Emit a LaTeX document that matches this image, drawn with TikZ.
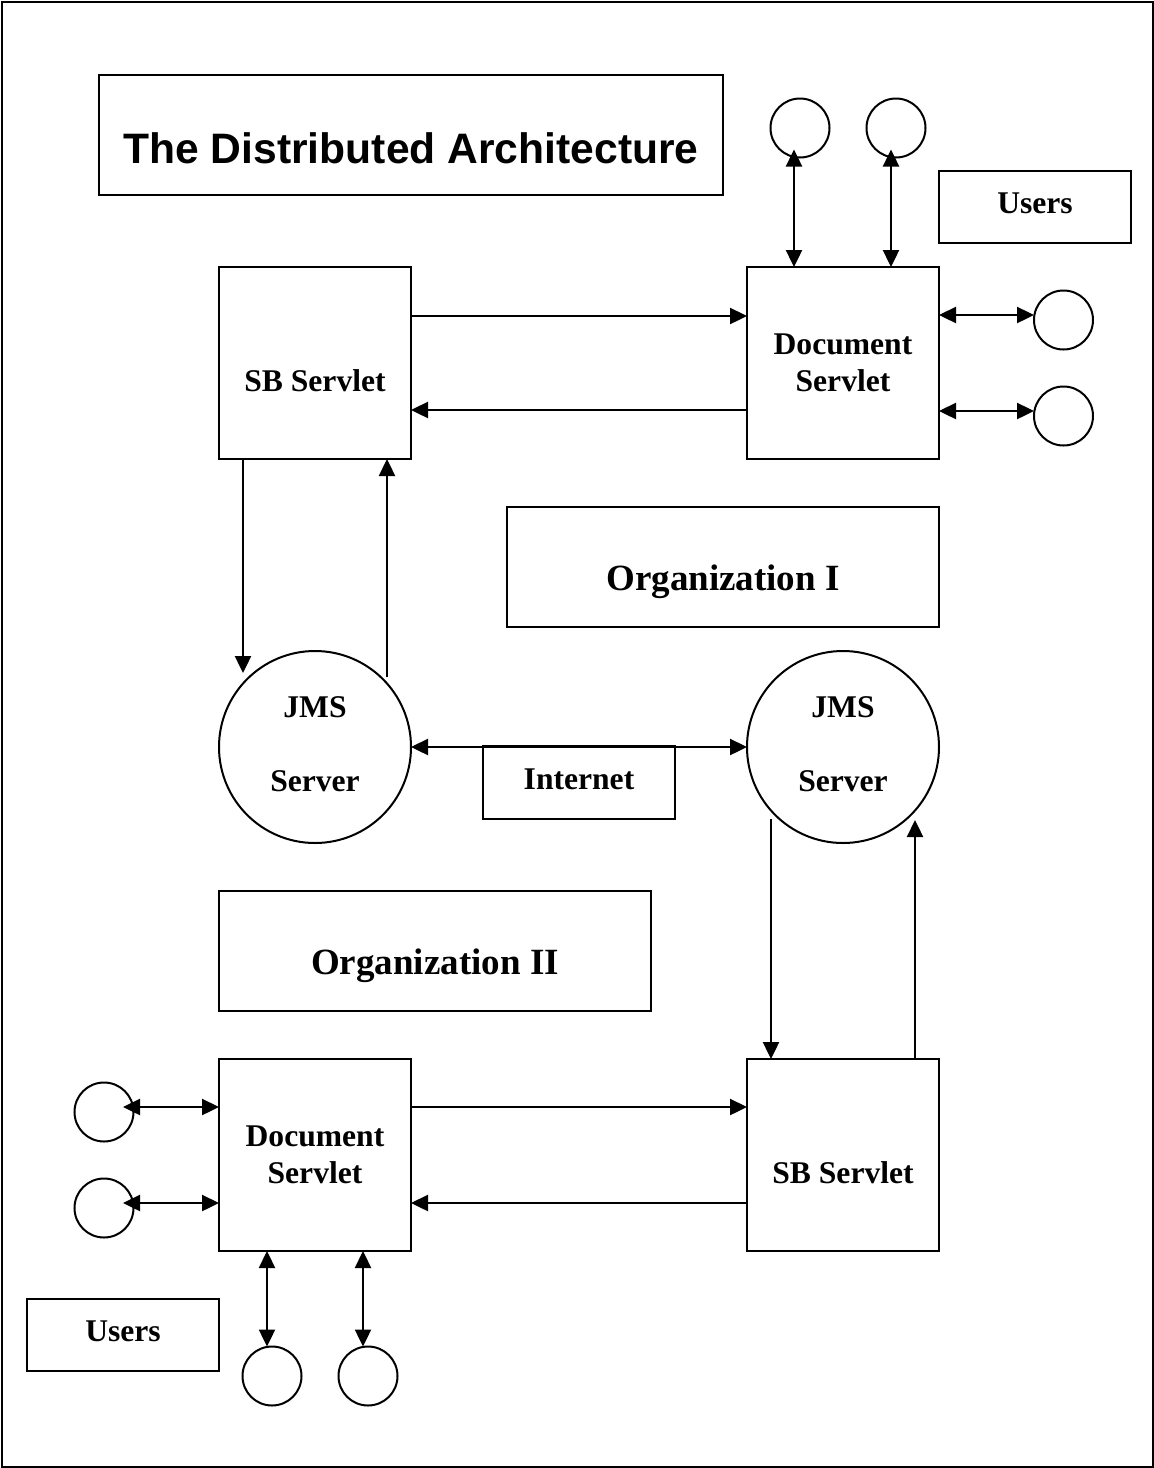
\documentclass[tikz,border=0pt]{standalone}
\usepackage{fontspec}
\setmainfont{Liberation Serif}
\newfontfamily\headfont{Liberation Sans}
\usetikzlibrary{arrows.meta,calc}

\begin{document}
\begin{tikzpicture}[x=0.5pt,y=-0.5pt,
  every node/.style={inner sep=0pt,outer sep=0pt},
  outline/.style={draw,line width=1pt},
  servlet/.style={outline,rectangle,minimum width=96pt,minimum height=96pt},
  tagbox/.style={outline,rectangle,minimum width=96pt,minimum height=36pt},
  orgbox/.style={outline,rectangle,minimum width=216pt,minimum height=60pt},
  jms/.style={outline,circle,minimum size=96pt},
  user/.style={outline,circle,minimum size=29.5pt},
  txt/.style={font=\fontsize{15.8}{18.5}\selectfont\bfseries,align=center},
  orgtxt/.style={font=\fontsize{18.5}{22}\selectfont\bfseries},
  arr/.style={line width=1.2pt,-{Triangle[length=8.5pt,width=8pt]}},
  darr/.style={line width=1.2pt,{Triangle[length=8.5pt,width=8pt]}-{Triangle[length=8.5pt,width=8pt]}}]

\useasboundingbox (0,0) rectangle (1154,1468);
\draw[line width=1pt] (1.5,2) rectangle (1152.5,1466.5);

% title
\node[outline,rectangle,minimum width=312pt,minimum height=60pt] (title) at (411,135) {};
\node[font=\headfont\bfseries\fontsize{21.3}{25}\selectfont] (titletxt) at (411,148) {The Distributed Architecture};

% Organization I
\node[tagbox] (usersA) at (1034.5,207) {};
\node[txt] (usersAtxt) at (1035,203) {Users};
\node[servlet] (sb1) at (315,363) {};
\node[txt] (sb1txt) at (315,381) {SB Servlet};
\node[servlet,txt] (doc1) at (843,363) {Document\\Servlet};
\node[user] (u1) at (800,128) {};
\node[user] (u2) at (896,128) {};
\node[user] (u3) at (1063.5,320) {};
\node[user] (u4) at (1063.5,416) {};
\node[orgbox] (org1) at (723,567) {};
\node[orgtxt] (org1txt) at (723,582) {Organization I};

% JMS servers and the Internet link
\node[jms] (jms1) at (315,747) {};
\node[txt] (jms1txt) at (315,744) {JMS\\[18.5pt]Server};
\node[jms] (jms2) at (843,747) {};
\node[txt] (jms2txt) at (843,744) {JMS\\[18.5pt]Server};
\node[tagbox,minimum height=36.5pt] (inet) at (579,782.5) {};
\node[txt] (inettxt) at (579,779) {Internet};

% Organization II
\node[orgbox] (org2) at (435,951) {};
\node[orgtxt] (org2txt) at (435,966) {Organization II};
\node[servlet,txt] (doc2) at (315,1155) {Document\\Servlet};
\node[servlet] (sb2) at (843,1155) {};
\node[txt] (sb2txt) at (843,1173) {SB Servlet};
\node[user] (u5) at (104,1112) {};
\node[user] (u6) at (104,1208) {};
\node[user] (u7) at (272,1376) {};
\node[user] (u8) at (368,1376) {};
\node[tagbox] (usersB) at (123,1335) {};
\node[txt] (usersBtxt) at (123,1331) {Users};

% user links, Organization I
\coordinate (p1) at ($(u1.south)+(-6,-8)$);
\coordinate (p2) at ($(u2.south)+(-5,-8)$);
\coordinate (p3) at ($(u3.west)+(0,-5)$);
\coordinate (p4) at ($(u4.west)+(0,-5)$);
\draw[darr] (p1 |- doc1.north) -- (p1);
\draw[darr] (p2 |- doc1.north) -- (p2);
\draw[darr] (p3 -| doc1.east) -- (p3);
\draw[darr] (p4 -| doc1.east) -- (p4);

% servlet links, Organization I
\coordinate (s1) at ($(sb1.north east)+(0,49)$);
\coordinate (s2) at ($(doc1.south west)+(0,-49)$);
\draw[arr] (s1) -- (s1 -| doc1.west);
\draw[arr] (s2) -- (s2 -| sb1.east);
\coordinate (d1) at ($(sb1.south west)+(24,0)$);
\coordinate (d1e) at ($(sb1.south west)+(24,214)$);
\coordinate (d2) at ($(sb1.south east)+(-24,0)$);
\coordinate (d2s) at ($(sb1.south east)+(-24,218)$);
\draw[arr] (d1) -- (d1e);
\draw[arr] (d2s) -- (d2);

% Internet
\draw[darr] (jms1.east) -- (jms2.west);

% servlet links, Organization II
\coordinate (e1s) at ($(sb2.north west)+(24,-240)$);
\coordinate (e1) at ($(sb2.north west)+(24,0)$);
\coordinate (e2) at ($(sb2.north east)+(-24,0)$);
\coordinate (e2e) at ($(sb2.north east)+(-24,-239)$);
\draw[arr] (e1s) -- (e1);
\draw[arr] (e2) -- (e2e);
\coordinate (t1) at ($(doc2.north east)+(0,48)$);
\coordinate (t2) at ($(sb2.south west)+(0,-48)$);
\draw[arr] (t1) -- (t1 -| sb2.west);
\draw[arr] (t2) -- (t2 -| doc2.east);

% user links, Organization II
\coordinate (q5) at ($(u5.center)+(19,-5)$);
\coordinate (q6) at ($(u6.center)+(19,-5)$);
\coordinate (q7) at ($(u7.north)+(-5,0)$);
\coordinate (q8) at ($(u8.north)+(-5,0)$);
\draw[darr] (q5) -- (q5 -| doc2.west);
\draw[darr] (q6) -- (q6 -| doc2.west);
\draw[darr] (q7 |- doc2.south) -- (q7);
\draw[darr] (q8 |- doc2.south) -- (q8);
\end{tikzpicture}
\end{document}
